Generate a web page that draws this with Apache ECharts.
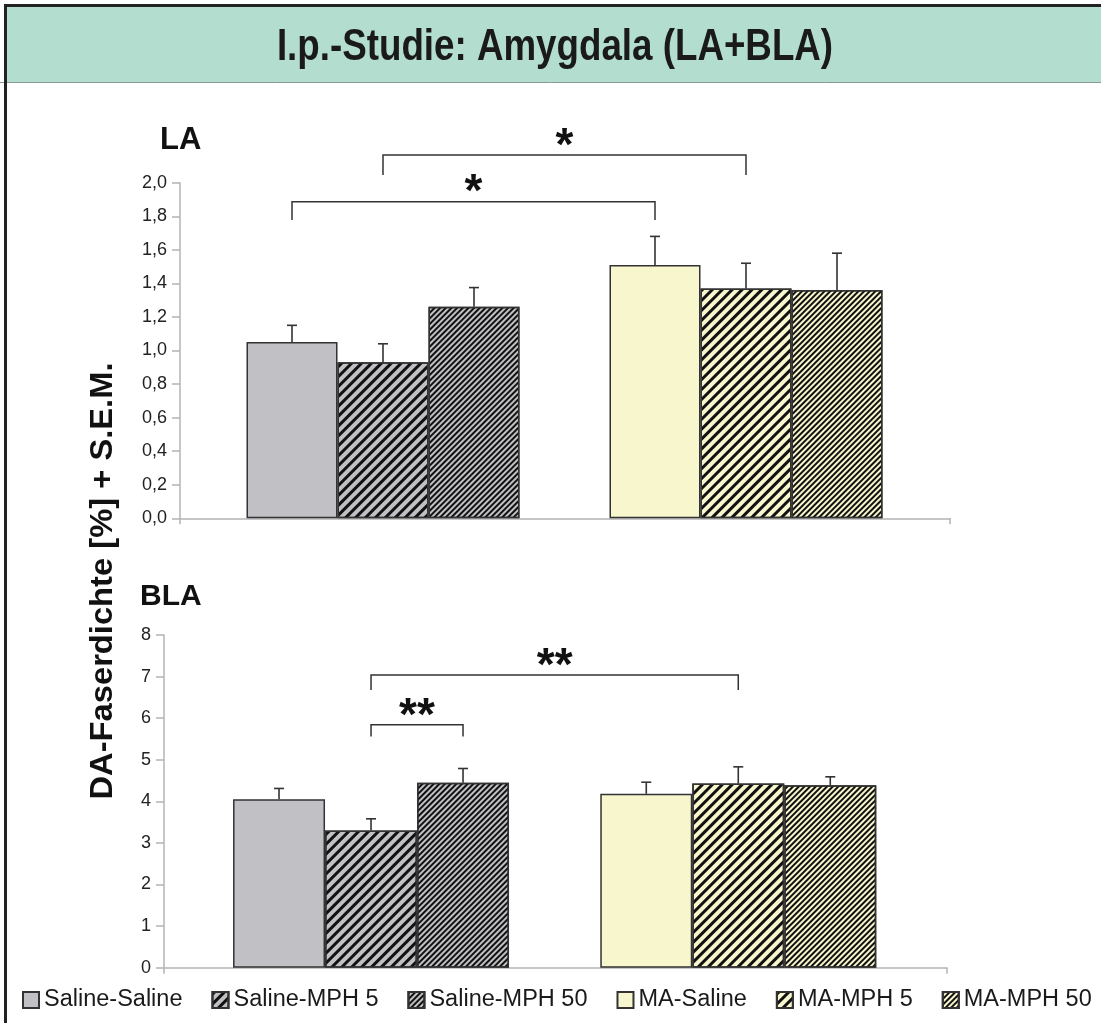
<!DOCTYPE html>
<html>
<head>
<meta charset="utf-8">
<script src="https://cdn.jsdelivr.net/npm/echarts@6/dist/echarts.min.js"></script>
<style>
html,body{margin:0;padding:0;background:#fff;}
#chart{width:1101px;height:1023px;}
</style>
</head>
<body>
<div id="chart"></div>
<script>
// ---- data ----
const categories = ['Saline', 'MA'];
const seriesNames = ['Saline-Saline', 'Saline-MPH 5', 'Saline-MPH 50', 'MA-Saline', 'MA-MPH 5', 'MA-MPH 50'];
const laMeans = [1.05, 0.93, 1.26, 1.51, 1.37, 1.36];
const laSEM   = [0.10, 0.11, 0.115, 0.17, 0.15, 0.22];
const blaMeans = [4.05, 3.30, 4.45, 4.18, 4.43, 4.39];
const blaSEM   = [0.26, 0.28, 0.34, 0.28, 0.40, 0.20];
const laTickLabels = ['0,0', '0,2', '0,4', '0,6', '0,8', '1,0', '1,2', '1,4', '1,6', '1,8', '2,0'];
const blaTickLabels = ['0', '1', '2', '3', '4', '5', '6', '7', '8'];
// brackets: [groupA, slotA, groupB, slotB, lineValue, dropValue]
const laBrackets = [[0, 1, 1, 1, 2.165, 2.046], [0, 0, 1, 0, 1.887, 1.778]];
const laBracketLabels = ['*', '*'];
const blaBrackets = [[0, 1, 1, 1, 7.04, 6.68], [0, 1, 0, 2, 5.84, 5.56]];
const blaBracketLabels = ['**', '**'];

// ---- styles ----
const GRAY = '#c1c1c5', YEL = '#f8f6cd';
const hatchWide = { symbol: 'rect', symbolSize: 1, dashArrayX: [1, 0], dashArrayY: [2.8, 3.6], rotation: -Math.PI / 4, color: '#111' };
const hatchFine = { symbol: 'rect', symbolSize: 1, dashArrayX: [1, 0], dashArrayY: [1.5, 1.5], rotation: -Math.PI / 4, color: '#111' };
const fills = [GRAY, GRAY, GRAY, YEL, YEL, YEL];
const decals = [null, hatchWide, hatchFine, null, hatchWide, hatchFine];
const FONT = '"Liberation Sans", Arial, sans-serif';
const AXIS = '#b4b4b4';

const groupOf = i => (i < 3 ? 0 : 1);
const slotOf = i => i % 3;

function barSeries(panel, means, xi, yi, bw) {
  return seriesNames.map((name, i) => ({
    name, type: 'bar', xAxisIndex: xi, yAxisIndex: yi,
    stack: panel + 's' + slotOf(i), barWidth: bw, barGap: '0%',
    data: categories.map((c, g) => (g === groupOf(i) ? means[i] : '-')),
    itemStyle: Object.assign({ color: fills[i], borderColor: '#333', borderWidth: 1.5 }, decals[i] ? { decal: decals[i] } : {}),
    emphasis: { disabled: true }, z: 2
  }));
}

function errSeries(means, sems, xi, yi, bw) {
  return {
    type: 'custom', xAxisIndex: xi, yAxisIndex: yi, z: 4, clip: false, silent: true,
    encode: { x: 0, y: 1 },
    data: means.map((m, i) => [groupOf(i), m, sems[i], slotOf(i)]),
    renderItem: (params, api) => {
      const g = api.value(0), m = api.value(1), e = api.value(2), s = api.value(3);
      const p0 = api.coord([g, m]), p1 = api.coord([g, m + e]);
      const x = p0[0] + (s - 1) * bw;
      const st = { stroke: '#333', lineWidth: 1.6 };
      return { type: 'group', children: [
        { type: 'line', shape: { x1: x, y1: p0[1], x2: x, y2: p1[1] }, style: st },
        { type: 'line', shape: { x1: x - 5, y1: p1[1], x2: x + 5, y2: p1[1] }, style: st }
      ] };
    }
  };
}

function bracketSeries(brackets, labels, xi, yi, bw) {
  return {
    type: 'custom', xAxisIndex: xi, yAxisIndex: yi, z: 5, clip: false, silent: true,
    encode: { x: 0, y: 4 },
    data: brackets,
    renderItem: (params, api) => {
      const gA = api.value(0), sA = api.value(1), gB = api.value(2), sB = api.value(3);
      const yl = api.value(4), yd = api.value(5);
      const a = api.coord([gA, yl]), b = api.coord([gB, yl]), d = api.coord([gA, yd]);
      const xA = a[0] + (sA - 1) * bw, xB = b[0] + (sB - 1) * bw;
      const y = a[1], y2 = d[1];
      const st = { stroke: '#333', lineWidth: 1.5, fill: null };
      return { type: 'group', children: [
        { type: 'polyline', shape: { points: [[xA, y2], [xA, y], [xB, y], [xB, y2]] }, style: st },
        { type: 'text', style: { text: labels[params.dataIndex], x: (xA + xB) / 2, y: y - 31, textAlign: 'center', textVerticalAlign: 'top', fontSize: 46, fontWeight: 'bold', fontFamily: FONT, fill: '#111' } }
      ] };
    }
  };
}

function axisX(gi) {
  return { type: 'value', gridIndex: gi, min: 0, max: 1, interval: 1,
    axisLine: { show: true, lineStyle: { color: AXIS, width: 1.5 } },
    axisTick: { show: true, length: 6, lineStyle: { color: AXIS, width: 1.5 } },
    axisLabel: { show: false }, splitLine: { show: false } };
}
function axisY(gi, max, interval, labels, margin) {
  return { type: 'value', gridIndex: gi, min: 0, max, interval,
    axisLine: { show: true, lineStyle: { color: AXIS, width: 1.5 } },
    axisTick: { show: true, length: 8, lineStyle: { color: AXIS, width: 1.5 } },
    axisLabel: { margin, fontSize: 18, color: '#222', fontFamily: FONT,
      formatter: v => labels[Math.round(v / interval)] },
    splitLine: { show: false } };
}

const LA_BW = 91, BLA_BW = 92;

const option = {
  animation: false,
  backgroundColor: '#fff',
  grid: [
    { left: 180, right: 151, top: 182.7, height: 335.6 },
    { left: 201.5, right: 173.5, top: 182.7, height: 335.6 },
    { left: 164, right: 154, top: 635, height: 332.7 },
    { left: 187.4, right: 179.1, top: 635, height: 332.7 }
  ],
  xAxis: [
    axisX(0),
    { type: 'category', gridIndex: 1, data: categories, show: false },
    axisX(2),
    { type: 'category', gridIndex: 3, data: categories, show: false }
  ],
  yAxis: [
    axisY(0, 2, 0.2, laTickLabels, 13),
    { type: 'value', gridIndex: 1, min: 0, max: 2, show: false },
    axisY(2, 8, 1, blaTickLabels, 13),
    { type: 'value', gridIndex: 3, min: 0, max: 8, show: false }
  ],
  legend: {
    data: seriesNames, left: 17, top: 983, width: 1084, itemWidth: 16, itemHeight: 16, itemGap: 29,
    icon: 'rect', selectedMode: false,
    textStyle: { fontSize: 23.5, color: '#1a1a1a', fontFamily: FONT }
  },
  graphic: [
    { type: 'rect', shape: { x: 6, y: 6, width: 1100, height: 76 }, style: { fill: '#b3ddcf' }, z: -10 },
    { type: 'line', shape: { x1: 0, y1: 82.5, x2: 1101, y2: 82.5 }, style: { stroke: '#8a9994', lineWidth: 1 } },
    { type: 'line', shape: { x1: 4, y1: 5.5, x2: 1101, y2: 5.5 }, style: { stroke: '#222', lineWidth: 3 } },
    { type: 'line', shape: { x1: 5.5, y1: 4, x2: 5.5, y2: 1023 }, style: { stroke: '#222', lineWidth: 3 } },
    { type: 'text', x: 555, y: 48, scaleX: 0.835, style: { text: 'I.p.-Studie: Amygdala (LA+BLA)', textAlign: 'center', textVerticalAlign: 'middle',
      fontSize: 44, fontWeight: 'bold', fontFamily: FONT, fill: '#1a1a1a' } },
    { type: 'text', x: 160, y: 140, style: { text: 'LA', textVerticalAlign: 'middle', fontSize: 31, fontWeight: 'bold', fontFamily: FONT, fill: '#111' } },
    { type: 'text', x: 140, y: 597, style: { text: 'BLA', textVerticalAlign: 'middle', fontSize: 30, fontWeight: 'bold', fontFamily: FONT, fill: '#111' } },
    { type: 'text', x: 103, y: 581, rotation: Math.PI / 2, scaleX: 1.055, style: { text: 'DA-Faserdichte [%] + S.E.M.', textAlign: 'center', textVerticalAlign: 'middle',
      fontSize: 31, fontWeight: 'bold', fontFamily: FONT, fill: '#111' } }
  ],
  series: [].concat(
    barSeries('la', laMeans, 1, 1, LA_BW),
    [errSeries(laMeans, laSEM, 1, 1, LA_BW), bracketSeries(laBrackets, laBracketLabels, 1, 1, LA_BW)],
    barSeries('bla', blaMeans, 3, 3, BLA_BW),
    [errSeries(blaMeans, blaSEM, 3, 3, BLA_BW), bracketSeries(blaBrackets, blaBracketLabels, 3, 3, BLA_BW)]
  )
};

const chart = echarts.init(document.getElementById('chart'), null, { renderer: 'canvas' });
chart.setOption(option);
</script>
</body>
</html>
